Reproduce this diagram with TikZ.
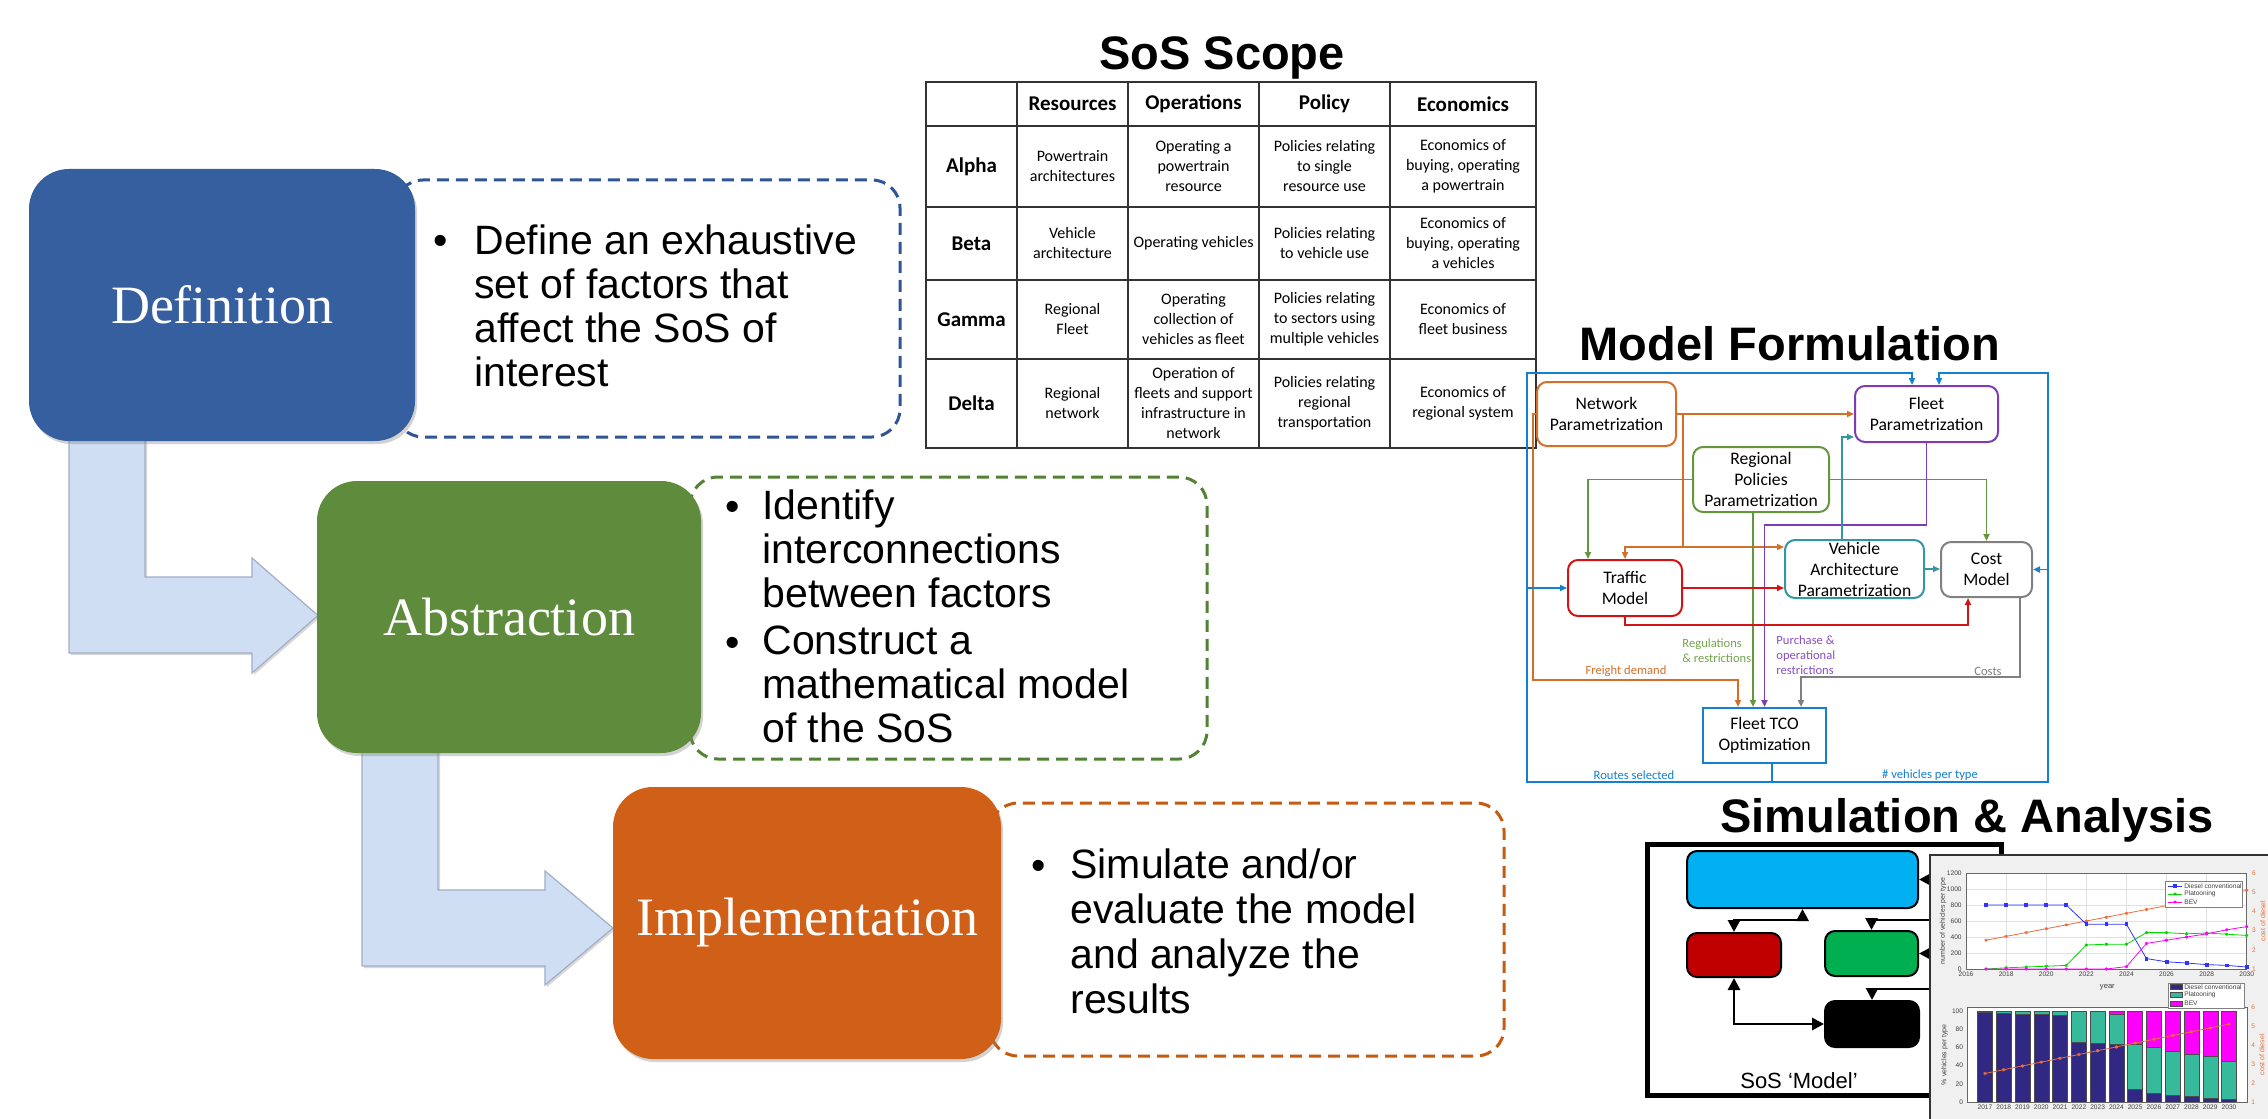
\documentclass[tikz,border=0pt]{standalone}
\usepackage{fontspec}
\setmainfont{Liberation Sans}
\newfontfamily\calib{Carlito}
\newfontfamily\serifb{Liberation Serif}
\usetikzlibrary{arrows.meta,shadows,plotmarks,calc}
\definecolor{defblue}{RGB}{54,95,160}
\definecolor{absgreen}{RGB}{94,140,60}
\definecolor{impor}{RGB}{208,96,24}
\definecolor{dashblue}{RGB}{47,85,151}
\definecolor{dashgreen}{RGB}{84,130,53}
\definecolor{dashor}{RGB}{197,90,17}
\definecolor{arrfill}{RGB}{207,222,243}
\definecolor{arredge}{RGB}{160,175,198}
\definecolor{mforange}{RGB}{214,110,40}
\definecolor{mfgreen}{RGB}{100,150,60}
\definecolor{mfgreent}{RGB}{115,165,75}
\definecolor{mfpurple}{RGB}{125,60,180}
\definecolor{mfpurplet}{RGB}{135,80,195}
\definecolor{mfteal}{RGB}{50,150,165}
\definecolor{mfred}{RGB}{210,20,20}
\definecolor{mfgray}{RGB}{128,128,128}
\definecolor{mfblue}{RGB}{20,128,210}
\definecolor{sosblue}{RGB}{0,176,240}
\definecolor{sosred}{RGB}{192,0,0}
\definecolor{sosgreen}{RGB}{0,176,80}
\definecolor{dies}{RGB}{48,40,130}
\definecolor{plat}{RGB}{55,185,155}
\definecolor{bevm}{RGB}{255,0,255}
\definecolor{costor}{RGB}{235,110,60}
\definecolor{panelgray}{RGB}{240,240,240}
\def\PX{0.5pt}
\begin{document}
\begin{tikzpicture}[x=0.5pt,y=-0.5pt,
 stagebox/.style={rounded corners=20pt, inner sep=0pt, text=white, font=\serifb\fontsize{27}{30}\selectfont, drop shadow={opacity=0.35,shadow xshift=1pt,shadow yshift=-1.5pt}},
 dashbox/.style={rounded corners=14pt, line width=1.5pt, dash pattern=on 6pt off 3.5pt, fill=white},
 bullettext/.style={anchor=north west, inner sep=0pt, align=left, font=\fontsize{20.5}{22}\selectfont},
 bulletdot/.style={anchor=base, inner sep=0pt, font=\fontsize{20.5}{22}\selectfont},
 bentarrow/.style={fill=arrfill, draw=arredge, line width=0.6pt, drop shadow={opacity=0.3,shadow xshift=1pt,shadow yshift=-1pt}},
 titlef/.style={anchor=base, inner sep=0pt, font=\bfseries\fontsize{23.5}{28}\selectfont},
 tabline/.style={line width=0.8pt, draw=black!80},
 cellh/.style={inner sep=0pt, align=center, font=\calib\bfseries\fontsize{10.5}{12}\selectfont},
 cell/.style={inner sep=0pt, align=center, font=\calib\fontsize{8}{10}\selectfont},
 mfbox/.style={draw, rounded corners=5pt, line width=1pt, fill=white, inner sep=0pt, align=center, font=\calib\fontsize{8.8}{10.5}\selectfont},
 mfline/.style={line width=0.9pt},
 mfarr/.style={line width=0.9pt, -{Triangle[length=3.5pt,width=3pt]}},
 mflabel/.style={inner sep=0pt, font=\calib\fontsize{6.3}{7.5}\selectfont},
 sosbox/.style={draw=black, line width=1pt, rounded corners=5pt, inner sep=0pt},
 sosarr/.style={line width=1.4pt, -{Triangle[length=6pt,width=6pt]}},
 sosdbl/.style={line width=1.4pt, {Triangle[length=6pt,width=6pt]}-{Triangle[length=6pt,width=6pt]}},
 tick/.style={inner sep=0pt, font=\fontsize{3.3}{4}\selectfont, text=black!75},
 otick/.style={inner sep=0pt, font=\fontsize{3.3}{4}\selectfont, text=costor},
 gridc/.style={draw=black!12, line width=0.2pt},
]
\useasboundingbox (0,0) rectangle (2268,1118);
\fill[white] (0,0) rectangle (2268,1118);

% ---------------- left process ----------------
\filldraw[bentarrow] (69,430) -- (145,430) -- (145,577) -- (252,577) -- (252,558) -- (318,615.5) -- (252,673) -- (252,653) -- (69,653) -- cycle;
\filldraw[bentarrow] (362,740) -- (438,740) -- (438,890) -- (545,890) -- (545,871) -- (613,928) -- (545,985) -- (545,966) -- (362,966) -- cycle;

\draw[dashbox, draw=dashblue] (395,180) rectangle (900,437);
\draw[dashbox, draw=dashgreen] (690,477) rectangle (1207,759);
\draw[dashbox, draw=dashor] (990,803) rectangle (1504,1056);

\node[stagebox, fill=defblue, minimum width=386*\PX, minimum height=272*\PX] (def) at (222,305) {Definition};
\node[stagebox, fill=absgreen, minimum width=384*\PX, minimum height=272*\PX] (abs) at (509,617) {Abstraction};
\node[stagebox, fill=impor, minimum width=388*\PX, minimum height=272*\PX] (imp) at (807,923) {Implementation};

\node[bulletdot] (db) at (441,255) {\textbullet};
\node[bullettext] (dtx) at (474,224) {Define an exhaustive\\set of factors that\\affect the SoS of\\interest};
\node[bulletdot] (ab1) at (733,520) {\textbullet};
\node[bullettext] (atx1) at (762,489) {Identify\\interconnections\\between factors};
\node[bulletdot] (ab2) at (733,656) {\textbullet};
\node[bullettext] (atx2) at (762,625) {Construct a\\mathematical model\\of the SoS};
\node[bulletdot] (ib) at (1039,879) {\textbullet};
\node[bullettext, font=\fontsize{20.5}{22.5}\selectfont] (itx) at (1070,848) {Simulate and/or\\evaluate the model\\and analyze the\\results};

% ---------------- SoS scope table ----------------
\node[titlef] (tsos) at (1222,70) {SoS Scope};
\draw[tabline] (926,82) rectangle (1536,448);
\foreach \xx in {1017,1128,1259,1390} \draw[tabline] (\xx,82) -- (\xx,448);
\foreach \yy in {126,207,280,359} \draw[tabline] (926,\yy) -- (1536,\yy);
\node[cellh] (hres) at (1072.5,104) {Resources};
\node[cellh] (hops) at (1193.5,104) {Operations};
\node[cellh] (hpol) at (1324.5,104) {Policy};
\node[cellh] (heco) at (1463,104) {Economics};
\node[cellh] (ralpha) at (971.5,166.5) {Alpha};
\node[cellh] (rbeta) at (971.5,243.5) {Beta};
\node[cellh] (rgamma) at (971.5,319.5) {Gamma};
\node[cellh] (rdelta) at (971.5,403.5) {Delta};
\node[cell] (c11) at (1072.5,166.5) {Powertrain\\architectures};
\node[cell] (c12) at (1193.5,166.5) {Operating a\\powertrain\\resource};
\node[cell] (c13) at (1324.5,166.5) {Policies relating\\to single\\resource use};
\node[cell] (c14) at (1463,166.5) {Economics of\\buying, operating\\a powertrain};
\node[cell] (c21) at (1072.5,243.5) {Vehicle\\architecture};
\node[cell] (c22) at (1193.5,243.5) {Operating vehicles};
\node[cell] (c23) at (1324.5,243.5) {Policies relating\\to vehicle use};
\node[cell] (c24) at (1463,243.5) {Economics of\\buying, operating\\a vehicles};
\node[cell] (c31) at (1072.5,319.5) {Regional\\Fleet};
\node[cell] (c32) at (1193.5,319.5) {Operating\\collection of\\vehicles as fleet};
\node[cell] (c33) at (1324.5,319.5) {Policies relating\\to sectors using\\multiple vehicles};
\node[cell] (c34) at (1463,319.5) {Economics of\\fleet business};
\node[cell] (c41) at (1072.5,403.5) {Regional\\network};
\node[cell] (c42) at (1193.5,403.5) {Operation of\\fleets and support\\infrastructure in\\network};
\node[cell] (c43) at (1324.5,403.5) {Policies relating\\regional\\transportation};
\node[cell] (c44) at (1463,403.5) {Economics of\\regional system};

% ---------------- Model formulation ----------------
\node[titlef] (tmf) at (1790,360) {Model Formulation};
\node[mfbox, draw=mforange, minimum width=139*\PX, minimum height=64*\PX] (net) at (1606.5,414) {Network\\Parametrization};
\node[mfbox, draw=mfpurple, minimum width=143*\PX, minimum height=56*\PX] (fleet) at (1926.5,414) {Fleet\\Parametrization};
\node[mfbox, draw=mfgreen, minimum width=136*\PX, minimum height=65*\PX] (reg) at (1761,479.5) {Regional\\Policies\\Parametrization};
\node[mfbox, draw=mfred, minimum width=114*\PX, minimum height=56*\PX] (traffic) at (1625,588) {Traffic\\Model};
\node[mfbox, draw=mfteal, minimum width=139*\PX, minimum height=58*\PX] (veh) at (1854.5,569) {Vehicle\\Architecture\\Parametrization};
\node[mfbox, draw=mfgray, minimum width=91*\PX, minimum height=55*\PX] (cost) at (1986.5,569.5) {Cost\\Model};
\node[mfbox, draw=mfblue, rounded corners=0pt, minimum width=123*\PX, minimum height=55*\PX] (tco) at (1764.5,735.5) {Fleet TCO\\Optimization};

\coordinate (nb) at (1683,414);
\coordinate (ob) at (1683,547);
\coordinate (fdl) at (1533,414);
\coordinate (fdb) at (1533,680);
\coordinate (fd) at (1738,680);
\coordinate (cg) at (1801,677);
\coordinate (bb) at (1772,782);
\coordinate (bl) at (1527,782);
\coordinate (tl) at (1527,373);
\coordinate (br) at (2048,782);
\coordinate (tr) at (2048,373);

\draw[mfarr, mforange] (net.east) -- (fleet.west |- net.east);
\draw[mfarr, mforange] (nb) -- (ob) -| (traffic.north);
\draw[mfarr, mforange] (ob) -- (veh.west |- ob);
\draw[mfarr, mforange] (net.west) -- (fdl) -- (fdb) -- (fd) -- (fd |- tco.north);
\draw[mfarr, mfgreen] (reg.west) -| ($(traffic.north)+(-37,0)$);
\draw[mfarr, mfgreen] (reg.east) -| (cost.north);
\draw[mfarr, mfgreen] ($(reg.south)+(-8,0)$) -- ($(tco.north)+(-11.5,0)$);
\draw[mfarr, mfpurple] (fleet.south) -- ($(fleet.south)+(0,82)$) -| (tco.north);
\draw[mfarr, mfteal] ($(veh.north)+(-12.5,0)$) |- ($(fleet.west)+(0,23)$);
\draw[mfarr, mfred] (traffic.east) -- (traffic.east -| veh.west);
\draw[mfarr, mfred] (traffic.south) -- ($(traffic.south)+(0,8)$) -| ($(cost.south)+(-18.5,0)$);
\draw[mfarr, mfteal] (veh.east) -- (veh.east -| cost.west);
\draw[mfarr, mfgray] ($(cost.south)+(33.5,0)$) |- (cg) -- (cg |- tco.north);
\draw[mfline, mfblue] ($(tco.south)+(7.5,0)$) -- (bb);
\draw[mfarr, mfblue] (bb) -- (bl) -- (tl) -| ($(fleet.north)+(-14.5,0)$);
\draw[mfarr, mfblue] (bb) -- (br) -- (tr) -| ($(fleet.north)+(12.5,0)$);
\draw[mfarr, mfblue] (bl |- traffic.west) -- (traffic.west);
\draw[mfarr, mfblue] (br |- cost.east) -- (cost.east);

\node[mflabel, text=mforange] (lfd) at (1626,671) {Freight demand};
\node[mflabel, text=mfgreent, anchor=west, align=left] (lreg) at (1682,650.5) {Regulations\\\& restrictions};
\node[mflabel, text=mfpurplet, anchor=west, align=left] (lpur) at (1776,655) {Purchase \&\\operational\\restrictions};
\node[mflabel, text=mfgray] (lcost) at (1988,671) {Costs};
\node[mflabel, text=mfblue] (lrs) at (1634,775) {Routes selected};
\node[mflabel, text=mfblue] (lvp) at (1930,775) {\# vehicles per type};

% ---------------- Simulation & analysis ----------------
\node[titlef] (tsa) at (1967,832) {Simulation \& Analysis};
\draw[line width=2.5pt] (1647.5,844.5) rectangle (2001.5,1095.5);
\node[sosbox, fill=sosblue, minimum width=231*\PX, minimum height=57*\PX] (sb) at (1802.5,879.5) {};
\node[sosbox, fill=sosred, minimum width=94*\PX, minimum height=44*\PX] (sr) at (1734,955) {};
\node[sosbox, fill=sosgreen, minimum width=93*\PX, minimum height=45*\PX] (sg) at (1871.5,953.5) {};
\node[sosbox, fill=black, minimum width=94*\PX, minimum height=46*\PX] (sk) at (1872,1024) {};
\coordinate (ca) at (1802.5,920);
\coordinate (pa) at (1945,920);
\coordinate (pb) at (1945,879.5);
\coordinate (pc) at (1945,953.5);
\coordinate (pd) at (1945,989);
\draw[sosdbl] (sr.north) |- (ca) -- (sb.south);
\draw[sosarr] (pa) -| (sg.north);
\draw[sosarr] (pb) -- (sb.east);
\draw[sosarr] (pc) -- (sg.east);
\draw[sosarr] (pd) -| (sk.north);
\draw[sosdbl] (sr.south) |- (sk.west);
\node[anchor=base, inner sep=0pt, font=\fontsize{11}{13}\selectfont] (smt) at (1799,1088) {SoS ‘Model’};

% chart panel
\fill[panelgray] (1930,855) rectangle (2270,1120);
\draw[line width=1pt, black!80] (1930,1120) -- (1930,855) -- (2270,855);

% upper plot
\fill[white] (1966,873) rectangle (2247,969);
\begin{scope}[shift={(1966,969)}, x=10.025pt, y=0.04pt]
 \foreach \k in {2,4,...,12} \draw[gridc] (\k,0) -- (\k,1200);
 \foreach \v in {200,400,...,1000} \draw[gridc] (0,\v) -- (14,\v);
 \draw[line width=0.3pt, black!60] (0,0) rectangle (14,1200);
 \draw[line width=0.4pt, costor] plot[mark=asterisk, mark size=0.8pt] coordinates {(1,360)(2,408)(3,456)(4,504)(5,552)(6,600)(7,648)(8,696)(9,744)(10,792)(11,840)(12,888)(13,936)(14,984)};
 \draw[line width=0.4pt, blue!80] plot[mark=square*, mark size=0.7pt] coordinates {(1,800)(2,800)(3,800)(4,800)(5,800)(6,560)(7,560)(8,560)(9,130)(10,90)(11,75)(12,55)(13,45)(14,25)};
 \draw[line width=0.4pt, green!85!black] plot[mark=asterisk, mark size=0.8pt] coordinates {(1,0)(2,15)(3,25)(4,35)(5,45)(6,300)(7,310)(8,310)(9,455)(10,455)(11,440)(12,450)(13,435)(14,420)};
 \draw[line width=0.4pt, bevm] plot[mark=asterisk, mark size=0.8pt] coordinates {(1,0)(2,0)(3,0)(4,0)(5,0)(6,0)(7,0)(8,30)(9,320)(10,360)(11,400)(12,440)(13,490)(14,530)};
 \foreach \v in {0,200,...,1200} \node[tick, anchor=east] at (-0.2,\v) {\v};
 \foreach \k in {0,2,...,14} {\pgfmathtruncatemacro\yy{2016+\k}\node[tick, anchor=north, yshift=-1.2pt] at (\k,0) {\yy};}
 \foreach \c in {1,...,6} {\pgfmathsetmacro\cy{(\c-1)*240}\node[otick, anchor=west] at (14.25,\cy) {\c};}
 \node[tick, rotate=90, font=\fontsize{3.5}{4}\selectfont] (ylab1) at (-1.15,600) {number of vehicles per type};
 \node[tick, font=\fontsize{3.8}{4}\selectfont] (xlab1) at (7.05,-225) {year};
 \node[otick, rotate=90, font=\fontsize{3.5}{4}\selectfont] (clab1) at (14.8,600) {cost of diesel};
\end{scope}
% legend 1
\filldraw[fill=white, draw=black!50, line width=0.3pt] (2165,881) rectangle (2242,907);
\draw[line width=0.4pt, blue!80] (2168,886) -- (2182,886) plot[mark=square*, mark size=0.7pt] coordinates {(2175,886)};
\draw[line width=0.4pt, green!85!black] (2168,894) -- (2182,894) plot[mark=asterisk, mark size=0.8pt] coordinates {(2175,894)};
\draw[line width=0.4pt, bevm] (2168,902) -- (2182,902) plot[mark=asterisk, mark size=0.8pt] coordinates {(2175,902)};
\node[tick, anchor=west] (lg1a) at (2184,886) {Diesel conventional};
\node[tick, anchor=west] (lg1b) at (2184,894) {Platooning};
\node[tick, anchor=west] (lg1c) at (2184,902) {BEV};

% lower plot
\fill[white] (1967,1007) rectangle (2247,1102);
\begin{scope}[shift={(1966.2,1102)}, x=9.385pt, y=0.455pt]
 \foreach \ii/\dd/\pp in {1/99/100,2/98/100,3/97/100,4/96/100,5/95/100,6/66/100,7/65/100,8/63/97,9/14/64,10/10/60,11/8/56,12/6/53,13/4/50,14/3/45}{
   \filldraw[fill=dies, draw=black!70, line width=0.2pt] (\ii-0.4,0) rectangle (\ii+0.4,\dd);
   \filldraw[fill=plat, draw=black!70, line width=0.2pt] (\ii-0.4,\dd) rectangle (\ii+0.4,\pp);
   \filldraw[fill=bevm, draw=black!70, line width=0.2pt] (\ii-0.4,\pp) rectangle (\ii+0.4,100);
   \pgfmathtruncatemacro\yy{2016+\ii}
   \node[tick, anchor=north, yshift=-1.2pt] at (\ii,0) {\yy};
 }
 \draw[line width=0.3pt, black!60] (0.05,0) rectangle (14.95,104.4);
 \draw[line width=0.4pt, costor] plot[mark=asterisk, mark size=0.8pt] coordinates {(1,31.32)(2,35.5)(3,39.67)(4,43.85)(5,48.02)(6,52.2)(7,56.38)(8,60.55)(9,64.73)(10,68.9)(11,73.08)(12,77.26)(13,81.43)(14,85.61)};
 \foreach \v in {0,20,...,100} \node[tick, anchor=east] at (-0.15,\v) {\v};
 \foreach \c in {1,...,6} {\pgfmathsetmacro\cy{(\c-1)*20.88}\node[otick, anchor=west] at (15.17,\cy) {\c};}
 \node[tick, rotate=90, font=\fontsize{3.5}{4}\selectfont] (ylab2) at (-1.15,52) {\% vehicles per type};
 \node[otick, rotate=90, font=\fontsize{3.5}{4}\selectfont] (clab2) at (15.75,52) {cost of diesel};
\end{scope}
% legend 2
\filldraw[fill=white, draw=black!50, line width=0.3pt] (2168,983) rectangle (2244,1008);
\filldraw[fill=dies, draw=black!70, line width=0.2pt] (2170,984.5) rectangle (2182,989.5);
\filldraw[fill=plat, draw=black!70, line width=0.2pt] (2170,992.5) rectangle (2182,997.5);
\filldraw[fill=bevm, draw=black!70, line width=0.2pt] (2170,1001) rectangle (2182,1006);
\node[tick, anchor=west] (lg2a) at (2184,987) {Diesel conventional};
\node[tick, anchor=west] (lg2b) at (2184,995) {Platooning};
\node[tick, anchor=west] (lg2c) at (2184,1003.5) {BEV};
\end{tikzpicture}
\end{document}
